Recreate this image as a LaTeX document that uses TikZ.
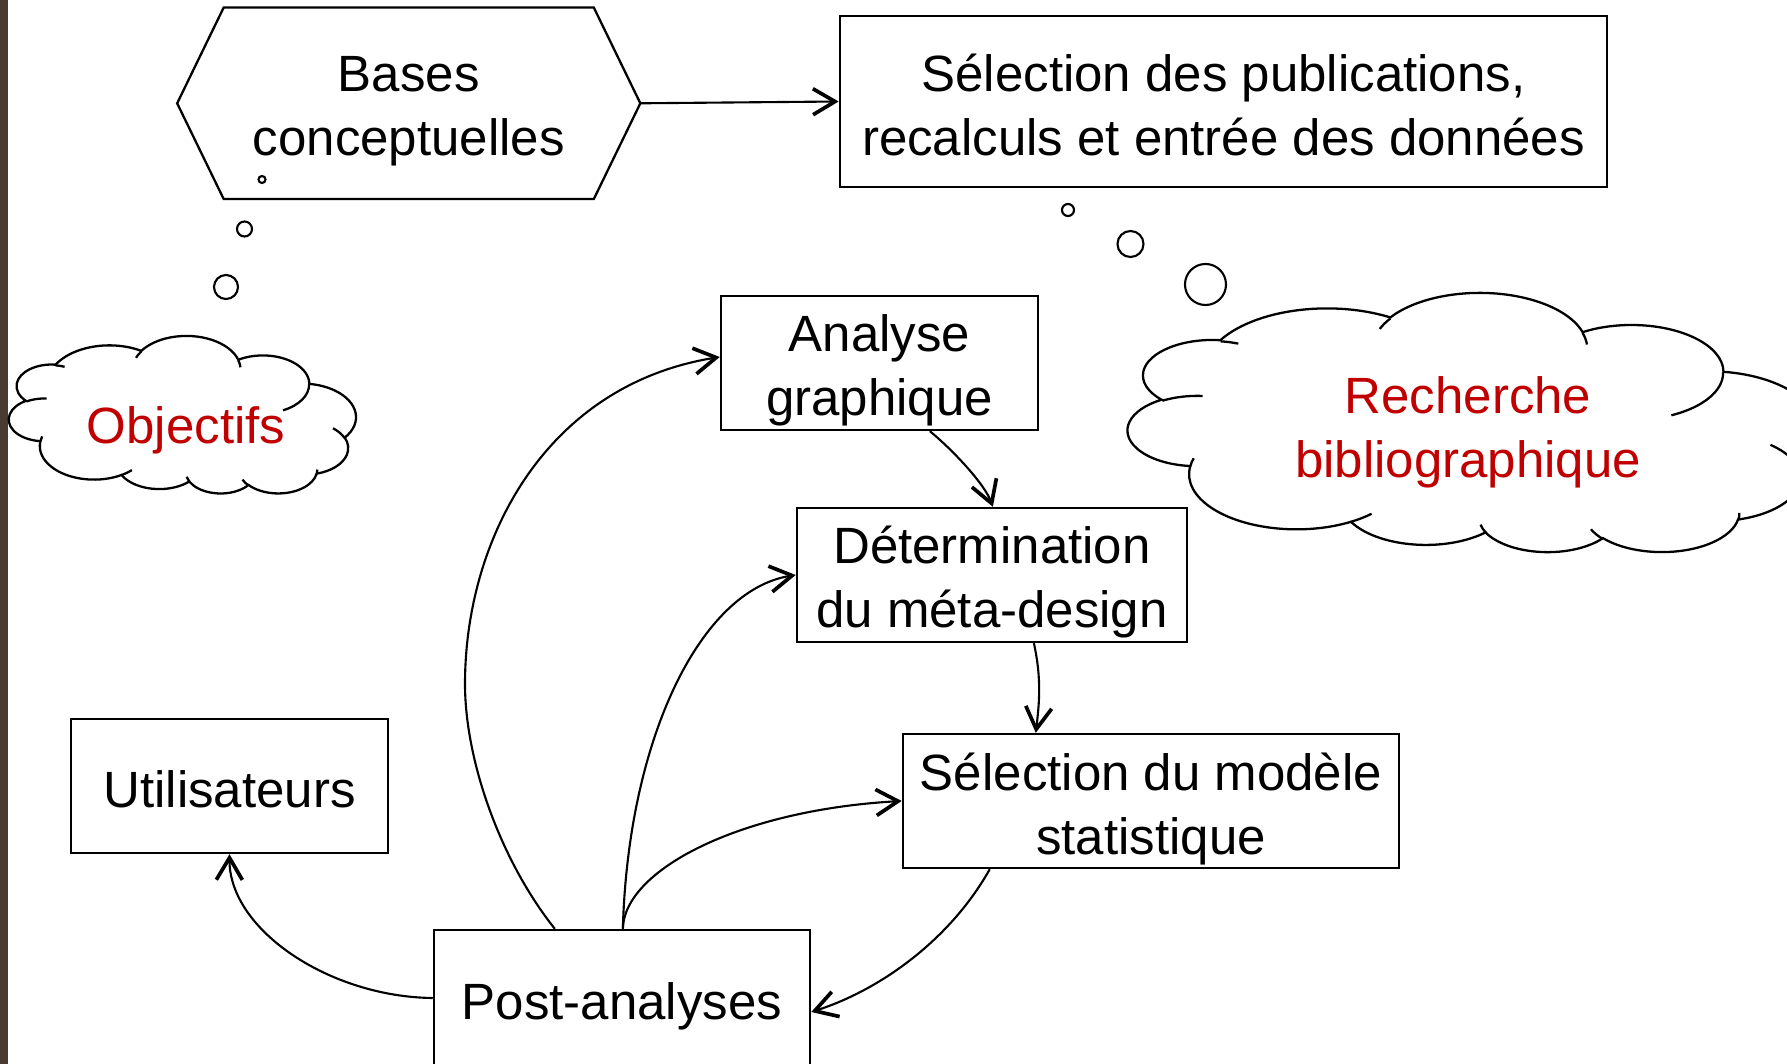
\documentclass[tikz,border=0pt]{standalone}
\usepackage{fontspec}
\setmainfont{Liberation Sans}
\usetikzlibrary{arrows.meta}
\definecolor{barbrown}{RGB}{74,59,48}
\definecolor{cloudred}{RGB}{192,0,0}
\newcommand\dsz{\fontsize{14.5pt}{18.2pt}\selectfont}
% DrawingML-style elliptic arc: radii, visual start angle, visual sweep
\newcommand\ooarc[4]{arc[x radius=#1pt, y radius=#2pt,
  start angle={atan2((#1)*sin(#3),(#2)*cos(#3))},
  delta angle={mod(atan2((#1)*sin((#3)+(#4)),(#2)*cos((#3)+(#4)))-atan2((#1)*sin(#3),(#2)*cos(#3))+720,360)}]}
\newcommand\cloudpath{(39.00,143.70)
  \ooarc{67.53}{91.90}{-190.487}{123.781}
  \ooarc{53.33}{72.67}{-144.102}{89.945}
  \ooarc{43.65}{59.45}{-145.808}{99.723}
  \ooarc{48.57}{65.95}{-130.986}{117.242}
  \ooarc{53.33}{72.73}{-78.709}{109.027}
  \ooarc{67.75}{92.20}{-46.267}{130.269}
  \ooarc{57.85}{78.67}{0.625}{114.033}
  \ooarc{67.52}{92.15}{22.452}{115.173}
  \ooarc{77.20}{105.43}{66.243}{75.711}
  \ooarc{43.60}{59.18}{-274.942}{146.736}
  \ooarc{43.45}{59.45}{-246.829}{152.519} -- cycle}
\newcommand\cloudcurls{
  (46.93,261.77) \ooarc{43.45}{59.45}{86.742}{26.430}
  (69.28,348.99) \ooarc{43.60}{59.18}{73.610}{11.447}
  (164.78,390.90) \ooarc{67.52}{92.15}{137.624}{14.081}
  (288.27,347.51) \ooarc{67.52}{92.15}{6.453}{15.998}
  (341.29,229.54) \ooarc{57.85}{78.67}{-70.292}{70.917}
  (417.98,153.54) \ooarc{53.33}{72.73}{30.318}{27.752}
  (383.24,54.26) \ooarc{48.57}{65.95}{-13.744}{14.859}
  (290.78,39.52) \ooarc{48.57}{65.95}{-149.181}{18.195}
  (221.41,47.20) \ooarc{43.65}{59.45}{-163.494}{17.686}
  (140.00,51.92) \ooarc{67.53}{91.90}{-66.707}{12.319}
  (41.27,157.89) \ooarc{67.53}{91.90}{157.654}{11.858}}
\begin{document}
\begin{tikzpicture}[x=0.01cm,y=-0.01cm,
  box/.style={draw, line width=0.65pt, inner sep=0pt},
  txt/.style={inner sep=0pt, align=center, font=\dsz},
  conn/.style={line width=0.6pt, -{Straight Barb[length=2.2mm,width=2.6mm,line width=1.05pt]}},
  bubble/.style={draw, line width=0.6pt},
  cloudline/.style={draw, line width=0.65pt, fill=white},
  curl/.style={draw, line width=0.65pt},
  cloudtext/.style={text=cloudred, font=\dsz, align=center}]
\fill[white] (0,0) rectangle (1787,1064);
\useasboundingbox (0,0) rectangle (1787,1064);
\fill[barbrown] (0,0) rectangle (8,1064);

% clouds
\begin{scope}[shift={(9,494)}, x=1pt, y=1pt, xscale={348*0.00065863}, yscale={158*0.00065863}]
  \draw[cloudline] \cloudpath;
  \draw[curl] \cloudcurls;
\end{scope}
\begin{scope}[shift={(1128,553)}, x=1pt, y=1pt, xscale={690*0.00065863}, yscale={260*0.00065863}]
  \draw[cloudline] \cloudpath;
  \draw[curl] \cloudcurls;
\end{scope}
\node[cloudtext] (obj) at (186,430) {Objectifs};
\node[cloudtext] (rech) at (1468,432) {Recherche\\bibliographique};

% thought bubbles
\draw[bubble] (262,179.5) circle[radius=0.035cm];
\draw[bubble] (244.5,229) circle[radius=0.075cm];
\draw[bubble] (226,287) circle[radius=0.12cm];
\draw[bubble] (1068,210) circle[radius=0.06cm];
\draw[bubble] (1130.5,244) circle[radius=0.13cm];
\draw[bubble] (1205.5,284.5) circle[radius=0.205cm];

% nodes
\node[inner sep=0pt, minimum width=3.685cm, minimum height=1.9cm] (hex) at (408.75,103.3) {};
\coordinate (hexL) at ([xshift=-0.465cm]hex.west);
\coordinate (hexR) at ([xshift=0.465cm]hex.east);
\draw[line width=0.65pt] (hexL) -- (hex.north west) -- (hex.north east) -- (hexR) -- (hex.south east) -- (hex.south west) -- cycle;
\node[txt] (hexT) at ([yshift=-0.08cm]hex.center) {Bases\\conceptuelles};

\node[box, minimum width=7.67cm, minimum height=1.71cm] (sel) at (1223.5,101.5) {};
\node[txt] (selT) at ([yshift=-0.035cm]sel.center) {Sélection des publications,\\recalculs et entrée des données};
\node[box, minimum width=3.17cm, minimum height=1.34cm] (ana) at (879.5,363) {};
\node[txt] (anaT) at ([yshift=-0.07cm]ana.center) {Analyse\\graphique};
\node[box, minimum width=3.90cm, minimum height=1.34cm] (det) at (992,575) {};
\node[txt] (detT) at ([yshift=-0.07cm]det.center) {Détermination\\du méta-design};
\node[box, minimum width=4.96cm, minimum height=1.34cm] (mod) at (1151,801) {};
\node[txt] (modT) at ([yshift=-0.08cm]mod.center) {Sélection du modèle\\statistique};
\node[box, minimum width=3.17cm, minimum height=1.34cm] (uti) at (229.5,786) {};
\node[txt] (utiT) at ([yshift=-0.035cm]uti.center) {Utilisateurs};
\node[box, minimum width=3.76cm, minimum height=1.36cm] (post) at (622,998) {};
\node[txt] (postT) at ([yshift=-0.08cm]post.center) {Post-analyses};

% connectors
\draw[conn] (hexR) -- (sel.west);
\draw[conn] ([xshift=2.1cm]ana.south west) .. controls (955,452) and (985,485) .. ([xshift=1.97cm]det.north west);
\draw[conn] ([xshift=2.38cm]det.south west) .. controls (1042,680) and (1039,705) .. ([xshift=1.34cm]mod.north west);
\draw[conn] ([xshift=0.88cm]mod.south west) .. controls (950,940) and (880,990) .. ([yshift=-0.14cm]post.east);
\draw[conn] (post.west) .. controls (330,997) and (229,930) .. (uti.south);
\draw[conn] ([xshift=1.22cm]post.north west) .. controls (500,860) and (465,760) .. (465,684) .. controls (465,540) and (545,385) .. ([yshift=0.06cm]ana.west);
\draw[conn] ([xshift=1.9cm]post.north west) .. controls (628,740) and (700,590) .. (det.west);
\draw[conn] ([xshift=1.9cm]post.north west) .. controls (624,870) and (740,810) .. (mod.west);
\end{tikzpicture}
\end{document}
